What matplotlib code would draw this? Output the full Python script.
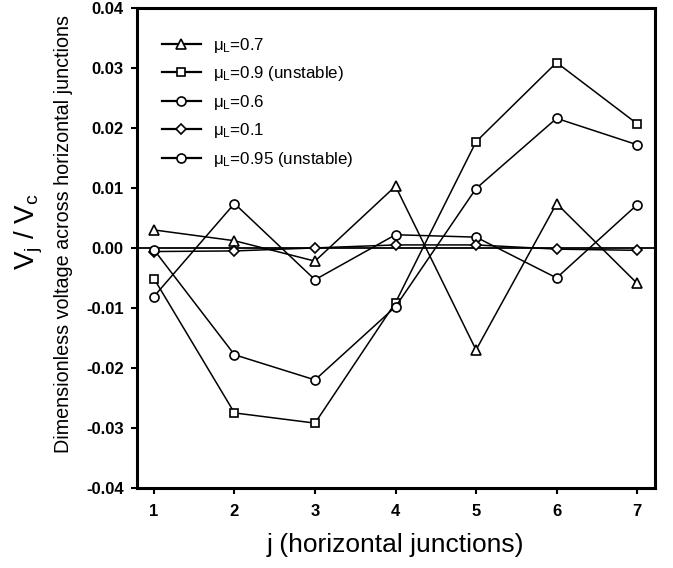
import matplotlib
matplotlib.use('Agg')
import matplotlib.pyplot as plt

plt.rcParams['font.family'] = ['Liberation Sans', 'DejaVu Sans']
plt.rcParams['mathtext.fontset'] = 'custom'
plt.rcParams['mathtext.rm'] = 'Liberation Sans'
plt.rcParams['mathtext.it'] = 'Liberation Sans:italic'

# junction index
j = [1, 2, 3, 4, 5, 6, 7]

# V_j / V_c
mu_07 = [0.0030, 0.0012, -0.0022, 0.0103, -0.0170, 0.0074, -0.0059]
mu_09 = [-0.0051, -0.0275, -0.0292, -0.0091, 0.0177, 0.0309, 0.0207]
mu_06 = [-0.0081, 0.0074, -0.0053, 0.0022, 0.0018, -0.0050, 0.0072]
mu_01 = [-0.0006, -0.0005, 0.0000, 0.0005, 0.0005, -0.0002, -0.0004]
mu_095 = [-0.0003, -0.0178, -0.0220, -0.0098, 0.0099, 0.0216, 0.0172]

series = [
    (mu_07, '^', 7.0, 'μ$_\\mathregular{L}$=0.7'),
    (mu_09, 's', 5.5, 'μ$_\\mathregular{L}$=0.9 (unstable)'),
    (mu_06, 'o', 6.5, 'μ$_\\mathregular{L}$=0.6'),
    (mu_01, 'D', 5.5, 'μ$_\\mathregular{L}$=0.1'),
    (mu_095, 'o', 6.5, 'μ$_\\mathregular{L}$=0.95 (unstable)'),
]

fig = plt.figure(figsize=(6.73, 5.68), dpi=100)
ax = fig.add_axes([0.2036, 0.141, 0.7694, 0.845])

ax.axhline(0, color='black', lw=1.3, zorder=1)

for ys, mk, ms, lab in series:
    ax.plot(j, ys, color='black', lw=1.1, marker=mk, ms=ms,
            mfc='white', mec='black', mew=1.2, label=lab, zorder=3)

ax.set_xlim(0.79, 7.22)
ax.set_ylim(-0.04, 0.04)
ax.set_xticks(j)
ax.set_yticks([-0.04, -0.03, -0.02, -0.01, 0.0, 0.01, 0.02, 0.03, 0.04])
ax.set_yticklabels(['%.2f' % v for v in ax.get_yticks()])
for lbl in ax.get_xticklabels() + ax.get_yticklabels():
    lbl.set_fontweight('bold')
    lbl.set_fontsize(12)

ax.tick_params(direction='out', length=4.5, width=1.5, pad=5)
ax.tick_params(axis='x', pad=7)
for sp in ax.spines.values():
    sp.set_linewidth(2.2)

leg = ax.legend(loc='upper left', bbox_to_anchor=(0.048, 0.942), frameon=False,
                fontsize=12.2, handlelength=2.3, labelspacing=0.56,
                borderaxespad=0, borderpad=0, handletextpad=0.7)
for h in leg.get_lines():
    h.set_linewidth(1.6)

ax.set_xlabel('j (horizontal junctions)', fontsize=19, labelpad=10)

fig.text(0.043, 0.592, 'V$_\\mathregular{j}$ / V$_\\mathregular{c}$', rotation=90,
         fontsize=20, ha='center', va='center')
fig.text(0.094, 0.588, 'Dimensionless voltage across horizontal junctions',
         rotation=90, fontsize=14.2, ha='center', va='center')

fig.savefig('out.png', dpi=100)
